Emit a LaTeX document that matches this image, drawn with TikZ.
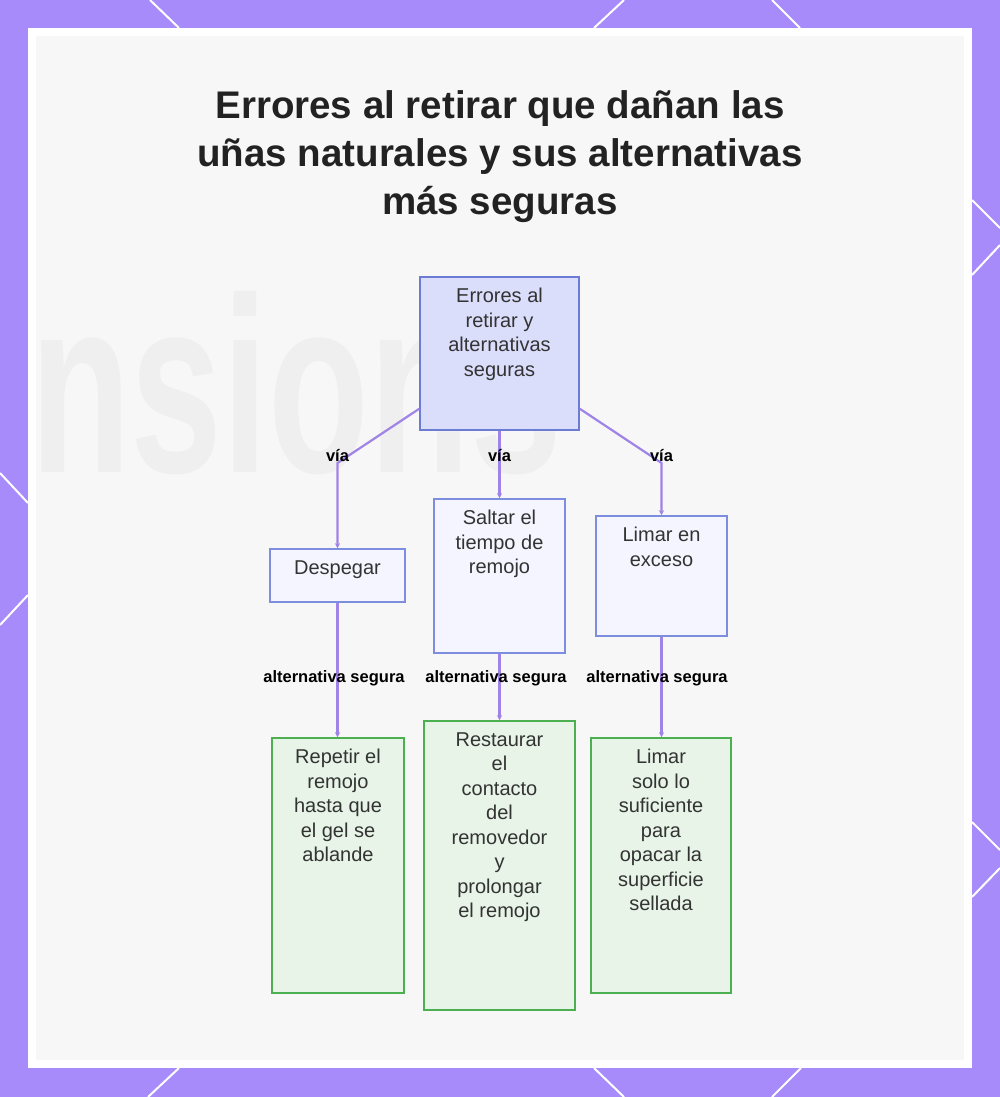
\documentclass[tikz,border=0pt]{standalone}
\usepackage{fontspec}
\setmainfont{Liberation Sans}
\usetikzlibrary{arrows.meta}
\definecolor{framec}{HTML}{A78BFA}
\definecolor{panelbg}{HTML}{F7F7F7}
\definecolor{wmark}{HTML}{EFEFEF}
\definecolor{topfill}{HTML}{DADEFB}
\definecolor{topdraw}{HTML}{6C7BD4}
\definecolor{midfill}{HTML}{F4F5FE}
\definecolor{middraw}{HTML}{7E8EDE}
\definecolor{grnfill}{HTML}{E7F4E7}
\definecolor{grndraw}{HTML}{4CAF50}
\definecolor{connc}{HTML}{A083E6}
\definecolor{txtc}{HTML}{333333}
\definecolor{titlec}{HTML}{222222}
\tikzset{
  topbox/.style={draw=topdraw, fill=topfill, line width=1.5pt, inner sep=0pt},
  midbox/.style={draw=middraw, fill=midfill, line width=1.5pt, inner sep=0pt},
  grnbox/.style={draw=grndraw, fill=grnfill, line width=1.5pt, inner sep=0pt},
  boxtxt/.style={inner sep=0pt, align=center, text=txtc, font=\fontsize{20}{24.5}\selectfont, anchor=north},
  lbl/.style={inner sep=0pt, text=black, font=\bfseries\fontsize{16.5}{20}\selectfont},
  conn/.style={draw=connc, line width=2.2pt, -{Stealth[length=5pt,width=5pt]}},
  deco/.style={draw=white, line width=2pt}
}
\begin{document}
\begin{tikzpicture}[x=1pt,y=-1pt]
\useasboundingbox (0,0) rectangle (1000,1097);
% frame
\fill[framec] (0,0) rectangle (1000,1097);
\draw[deco] (150,0) -- (179,28);
\draw[deco] (624,0) -- (594,28);
\draw[deco] (772,0) -- (800,28);
\draw[deco] (148,1097) -- (179,1068);
\draw[deco] (624,1097) -- (594,1068);
\draw[deco] (772,1097) -- (801,1068);
\draw[deco] (0,473) -- (28,503);
\draw[deco] (28,595) -- (0,625);
\draw[deco] (972,200) -- (1000,228);
\draw[deco] (1000,245) -- (972,275);
\draw[deco] (972,822) -- (1000,850);
\draw[deco] (1000,868) -- (972,897);
\fill[white] (28,28) rectangle (972,1068);
\fill[panelbg] (36,36) rectangle (964,1060);
% watermark
\begin{scope}
\clip (36,36) rectangle (964,1060);
\node[inner sep=0pt, anchor=base west, text=wmark, font=\bfseries\fontsize{250}{250}\selectfont, xscale=0.66] (wm) at (30,472) {nsions};
\end{scope}
% title
\node[inner sep=0pt, align=center, text=titlec, font=\bfseries\fontsize{38.5}{48}\selectfont] (title) at (500,157) {Errores al retirar que dañan las\\uñas naturales y sus alternativas\\más seguras};
% boxes
\node[topbox, minimum width=159pt, minimum height=153pt] (top) at (499.5,353.5) {};
\node[midbox, minimum width=135pt, minimum height=53pt] (desp) at (337.5,575.5) {};
\node[midbox, minimum width=131pt, minimum height=154pt] (salt) at (499.5,576) {};
\node[midbox, minimum width=131pt, minimum height=120pt] (lim) at (661.5,576) {};
\node[grnbox, minimum width=132pt, minimum height=255pt] (g1) at (338,865.5) {};
\node[grnbox, minimum width=151pt, minimum height=289pt] (g2) at (499.5,865.5) {};
\node[grnbox, minimum width=140pt, minimum height=255pt] (g3) at (661,865.5) {};
% texts
\node[boxtxt] (topT) at ([yshift=-12pt]top.north) {Errores al\\retirar y\\alternativas\\seguras};
\node[boxtxt] (despT) at ([yshift=-12pt]desp.north) {Despegar};
\node[boxtxt] (saltT) at ([yshift=-12pt]salt.north) {Saltar el\\tiempo de\\remojo};
\node[boxtxt] (limT) at ([yshift=-12pt]lim.north) {Limar en\\exceso};
\node[boxtxt] (g1T) at ([yshift=-12pt]g1.north) {Repetir el\\remojo\\hasta que\\el gel se\\ablande};
\node[boxtxt] (g2T) at ([yshift=-12pt]g2.north) {Restaurar\\el\\contacto\\del\\removedor\\y\\prolongar\\el remojo};
\node[boxtxt] (g3T) at ([yshift=-12pt]g3.north) {Limar\\solo lo\\suficiente\\para\\opacar la\\superficie\\sellada};
% connectors
\coordinate (s1) at ([yshift=22pt]top.south west);
\coordinate (s3) at ([yshift=22pt]top.south east);
\coordinate (b1) at (337.5,463);
\coordinate (b3) at (661.5,463);
\draw[conn] (s1) -- (b1) -- (desp.north);
\draw[conn] (top.south) -- (salt.north);
\draw[conn] (s3) -- (b3) -- (lim.north);
\draw[conn] (desp.south) -- (desp.south |- g1.north);
\draw[conn] (salt.south) -- (g2.north);
\draw[conn] (lim.south) -- (lim.south |- g3.north);
% labels
\node[lbl] (v1) at (337.5,456) {vía};
\node[lbl] (v2) at (499.5,456) {vía};
\node[lbl] (v3) at (661.5,456) {vía};
\node[lbl] (a1) at (334,678) {alternativa segura};
\node[lbl] (a2) at (496,678) {alternativa segura};
\node[lbl] (a3) at (657,678) {alternativa segura};
\end{tikzpicture}
\end{document}
